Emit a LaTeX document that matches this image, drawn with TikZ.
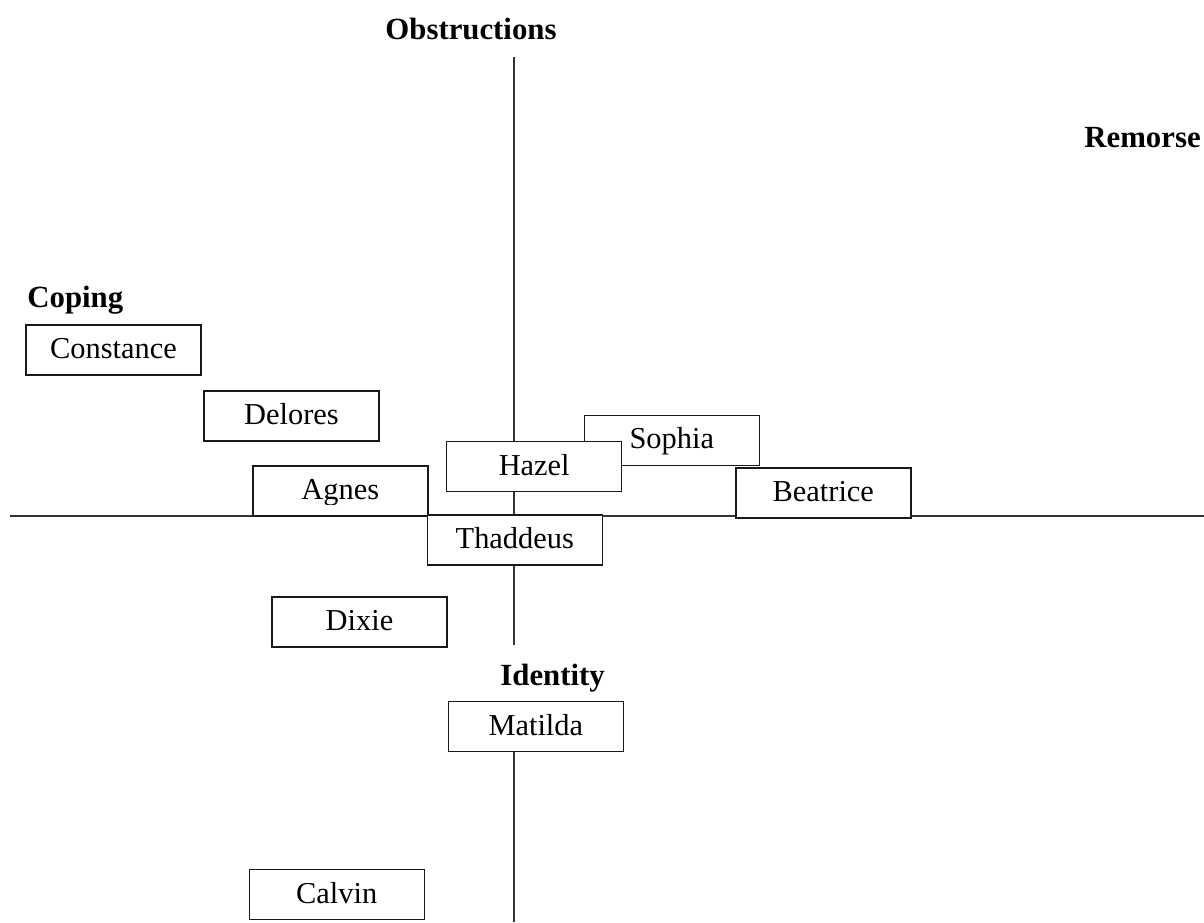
\documentclass[tikz,border=0pt]{standalone}
\usepackage{fontspec}
\setmainfont{Liberation Serif}
\begin{document}
\begin{tikzpicture}[x=0.5pt,y=-0.5pt,
  axis/.style={draw=black!80, line width=0.65pt},
  namebox/.style={draw=black!90, fill=white, line width=0.7pt, minimum width=87.5pt, minimum height=25pt, inner sep=0pt, text height=0.85em, text depth=0pt, font=\fontsize{15.2pt}{18pt}\selectfont},
  nametext/.style={namebox, draw=none, fill=none},
  axislabel/.style={font=\fontsize{15.4pt}{18pt}\selectfont\bfseries, inner sep=0pt}]
\clip (0,0) rectangle (1204,922);
\path[use as bounding box] (0,0) rectangle (1204,922);
% axes
\coordinate (vtop) at (514,57);
\coordinate (vmid) at (514,645);
\coordinate (vbot) at (514,922);
\coordinate (hleft) at (10,516);
\coordinate (hright) at (1204,516);
\draw[axis] (vtop) -- (vmid);
\draw[axis] (hleft) -- (hright);
% labels
\node[axislabel, anchor=base] (obs) at (471,39) {Obstructions};
\node[axislabel, anchor=base west] (rem) at (1084,147) {Remorse};
\node[axislabel, anchor=base west] (cop) at (27,307) {Coping};
\node[axislabel, anchor=base west] (ide) at (500,685) {Identity};
% boxes
\node[namebox] (constance) at (113.5,350) {Constance};
\node[namebox] (delores) at (291.5,416) {Delores};
\node[namebox] (sophia) at (671.8,440.3) {};
\begin{scope}
  \clip (584,414) rectangle (760,454);
  \node[nametext] (sophiat) at (671.8,440.3) {Sophia};
\end{scope}
\node[namebox] (hazel) at (534.2,466.7) {Hazel};
\node[namebox] (agnes) at (340.3,490.8) {};
\begin{scope}
  \clip (252,465) rectangle (429,504);
  \node[nametext] (agnest) at (340.3,490.8) {Agnes};
\end{scope}
\node[namebox] (beatrice) at (823.3,493) {Beatrice};
\node[namebox] (thaddeus) at (514.8,540) {Thaddeus};
\node[namebox] (dixie) at (359.5,622) {Dixie};
\node[namebox] (matilda) at (535.8,726.7) {Matilda};
\node[namebox] (calvin) at (336.7,894.7) {Calvin};
\draw[axis] (vbot) -- (vbot |- matilda.south);
\end{tikzpicture}
\end{document}
